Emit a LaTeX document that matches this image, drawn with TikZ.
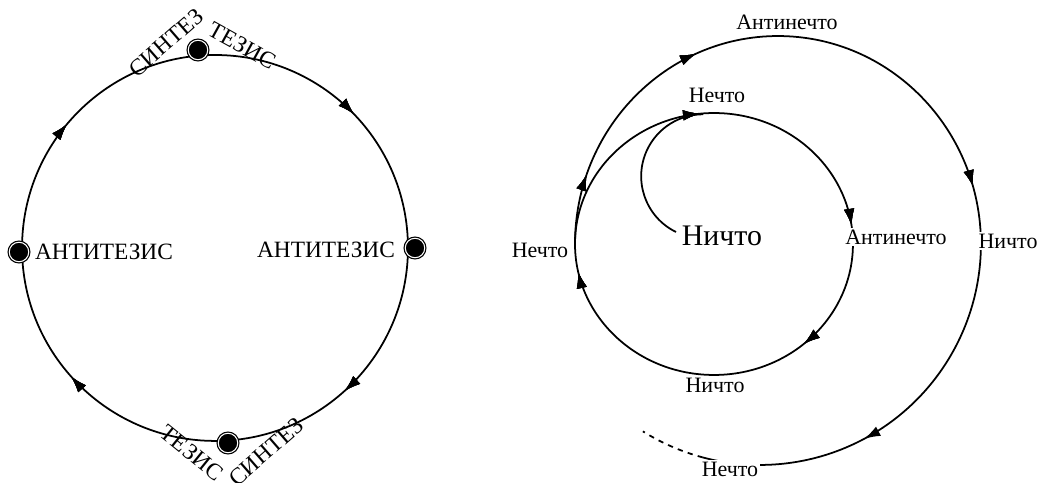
\documentclass[tikz,border=0pt]{standalone}
\usepackage{fontspec}
\setmainfont{Liberation Serif}
\usetikzlibrary{arrows.meta, decorations.markings}

\begin{document}
\begin{tikzpicture}[
  x=0.02cm, y=0.02cm,
  >={Latex[length=3.3mm, width=2.1mm]},
  curve/.style={line width=1pt, black},
  midarrow/.style={postaction={decorate}, decoration={markings,
    mark=at position #1 with {\arrow{>}}}},
  dot/.style={circle, fill=black, draw=black, line width=0.7pt,
    double=white, double distance=0.6pt, minimum size=3.9mm, inner sep=0pt},
  thesis/.style={font=\fontsize{13.3}{16}\selectfont, inner sep=1pt},
  word/.style={font=\fontsize{12.5}{15}\selectfont, inner sep=1pt},
  bigword/.style={font=\fontsize{17}{20}\selectfont, inner sep=1pt},
  cover/.style={fill=white},
]

\useasboundingbox (0,0) rectangle (1041,483);

% =============================================
% Left: thesis / antithesis / synthesis circle
% =============================================
\coordinate (ctop) at (215,428);

\draw[curve, midarrow=0.128, midarrow=0.383, midarrow=0.634, midarrow=0.861]
  (ctop) arc[start angle=90, end angle=-270, radius=3.86cm];

\node[dot] (dtop) at (198,433) {};
\node[dot] (dbot) at (228,40) {};
\node[dot] (dleft) at (19,231) {};
\node[dot] (dright) at (415,235) {};

\node[thesis] (antil) at (104,231) {АНТИТЕЗИС};
\node[thesis] (antir) at (326,233) {АНТИТЕЗИС};

\node[thesis, rotate=41] (syntop) at (166,440) {СИНТЕЗ};
\node[thesis, rotate=-29] (thtop) at (242,437) {ТЕЗИС};
\node[thesis, rotate=-39] (thbot) at (192,30) {ТЕЗИС};
\node[thesis, rotate=41] (synbot) at (266,31) {СИНТЕЗ};

% =============================================
% Right: spiral of nothing and something
% =============================================
\coordinate (sleft) at (575,239);
\coordinate (hook) at (676,251);

% inner loop
\draw[curve, midarrow=0.233, midarrow=0.478, midarrow=0.636, midarrow=0.967]
  (sleft) arc[start angle=180, end angle=-180, x radius=2.78cm, y radius=2.62cm];

% hook out of the centre
\draw[curve] (hook) arc[start angle=244, end angle=90, radius=1.24cm];

% outer turn
\draw[curve, midarrow=0.11, midarrow=0.37, midarrow=0.91]
  (sleft) arc[start angle=180, end angle=0, x radius=4.06cm, y radius=4.16cm]
  coordinate (sright);
\draw[curve, midarrow=0.59]
  (sright) arc[start angle=0, end angle=-105, radius=4.42cm]
  coordinate (tail);
\draw[curve, dashed]
  (tail) arc[start angle=-105, end angle=-122, radius=4.42cm];

% labels
\node[word] (anti1) at (787,461) {Антинечто};
\node[word] (some1) at (717,388) {Нечто};
\node[bigword] (none0) at (722,247) {Ничто};
\node[word, cover] (anti2) at (896,246) {Антинечто};
\node[word, cover] (none2) at (1008,242) {Ничто};
\node[word] (some2) at (540,233) {Нечто};
\node[word] (none1) at (715,98) {Ничто};
\node[word, cover] (some3) at (730,14) {Нечто};

\end{tikzpicture}
\end{document}
